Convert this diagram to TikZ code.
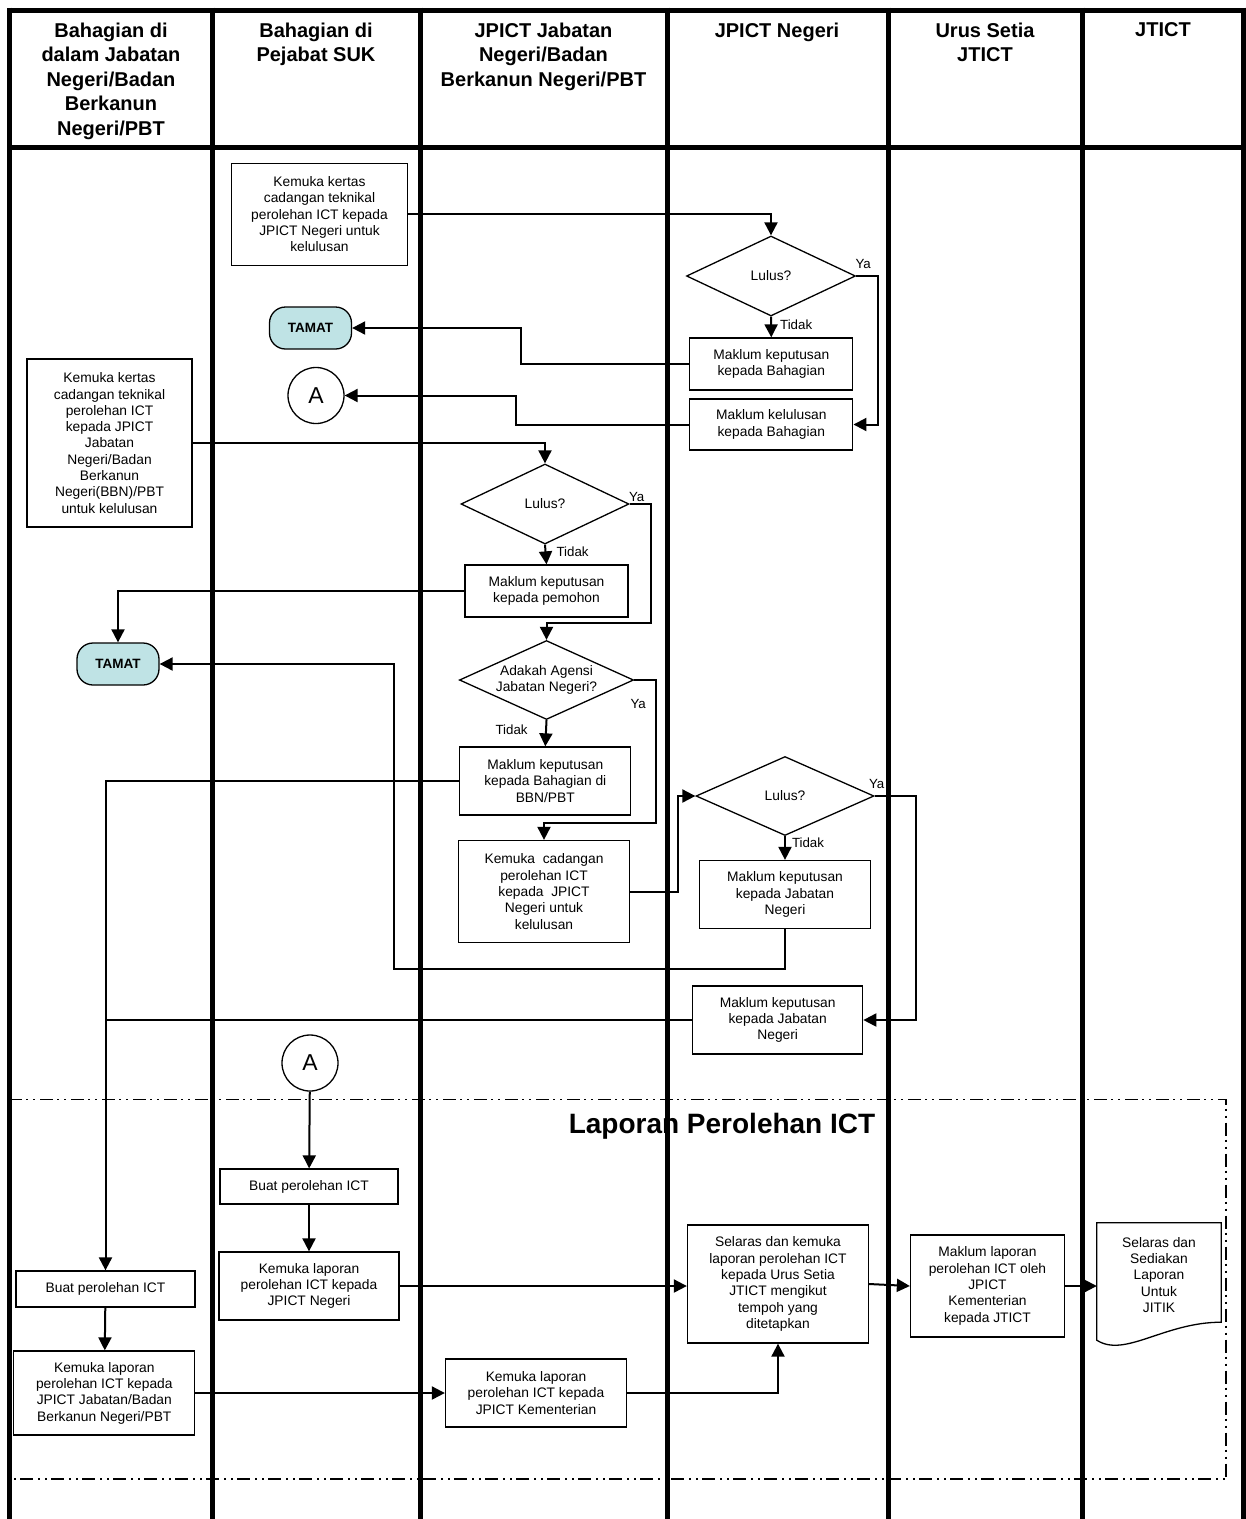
\documentclass[tikz,border=0pt]{standalone}
\usepackage{fontspec}
\setmainfont{Liberation Sans}
\usetikzlibrary{arrows.meta,shapes.geometric}
\definecolor{tamatfill}{RGB}{191,227,229}

\begin{document}
\begin{tikzpicture}[x=1pt,y=-1pt,
    lane/.style={line width=5pt},
    hdr/.style={anchor=north,align=center,inner sep=0pt,font=\fontsize{20}{24.5}\selectfont\bfseries},
    box/.style={draw,line width=1.3pt,align=center,inner sep=1pt,font=\fontsize{13.8}{16.3}\selectfont},
    dia/.style={draw,diamond,line width=1.3pt,align=center,inner sep=0pt,font=\fontsize{13.8}{16.3}\selectfont},
    endbox/.style={draw,rounded corners=16pt,fill=tamatfill,line width=1.3pt,minimum width=82pt,minimum height=42pt,font=\fontsize{13.5}{16}\selectfont\bfseries},
    conn/.style={draw,circle,line width=1.3pt,minimum size=56pt,inner sep=0pt,font=\fontsize{23}{26}\selectfont},
    flow/.style={line width=2pt,-{Triangle[length=13pt,width=13pt]}},
    link/.style={line width=2pt},
    lbl/.style={inner sep=1pt,font=\fontsize{13.3}{15}\selectfont},
    region/.style={line width=1.3pt,dash pattern=on 13pt off 4pt on 2pt off 5pt on 2pt off 5pt}]
      \useasboundingbox (0,0) rectangle (1246,1519);
      \node[font=\fontsize{28}{30}\selectfont\bfseries] (title) at (722,1126) {Laporan Perolehan ICT};
      \draw[lane] (9,10) -- (1244,10);
      \draw[lane] (9,147) -- (1244,147);
      \foreach \x in {9,212.5,420,667,888,1082,1243}
        \draw[lane] (\x,7.5) -- (\x,1519);
      \draw[region] (9,1099.5) -| (1226,1479) -- (9,1479);

      \node[hdr] (h1) at (111,22.5) {Bahagian di\\dalam Jabatan\\Negeri/Badan\\Berkanun\\Negeri/PBT};
      \node[hdr] (h2) at (316,22.5) {Bahagian di\\Pejabat SUK};
      \node[hdr] (h3) at (543.5,22.5) {JPICT Jabatan\\Negeri/Badan\\Berkanun Negeri/PBT};
      \node[hdr] (h4) at (777,22.5) {JPICT Negeri};
      \node[hdr] (h5) at (985,22.5) {Urus Setia\\JTICT};
      \node[hdr] (h6) at (1163,22.5) {JTICT};

      \node[box,minimum width=176pt,minimum height=102pt] (k1) at (319.5,214.3) {Kemuka kertas\\cadangan teknikal\\perolehan ICT kepada\\JPICT Negeri untuk\\kelulusan};
      \node[dia,minimum width=169pt,minimum height=80pt] (d1) at (771,276) {Lulus?};
      \node[endbox] (t1) at (310.5,328) {TAMAT};
      \node[box,minimum width=163pt,minimum height=52pt] (m1) at (771.3,364) {Maklum keputusan\\kepada Bahagian};
      \node[conn] (a1) at (316,395.5) {A};
      \node[box,minimum width=163pt,minimum height=51pt] (m2) at (771.3,424.5) {Maklum kelulusan\\kepada Bahagian};
      \node[box,minimum width=165pt,minimum height=168pt] (k2) at (109.5,443) {Kemuka kertas\\cadangan teknikal\\perolehan ICT\\kepada JPICT\\Jabatan\\Negeri/Badan\\Berkanun\\Negeri(BBN)/PBT\\untuk kelulusan};
      \node[dia,minimum width=168pt,minimum height=80pt] (d2) at (545,504) {Lulus?};
      \node[box,minimum width=163pt,minimum height=52pt] (m3) at (546.5,591) {Maklum keputusan\\kepada pemohon};
      \node[endbox] (t2) at (118,664) {TAMAT};
      \node[dia,shape aspect=2.5,minimum width=171pt,minimum height=79pt] (d3) at (546.5,680) {Adakah Agensi\\Jabatan Negeri?};
      \node[box,minimum width=171pt,minimum height=68pt] (m4) at (545.3,781) {Maklum keputusan\\kepada Bahagian di\\BBN/PBT};
      \node[box,minimum width=171pt,minimum height=102pt] (k3) at (544,891.5) {Kemuka~~cadangan\\perolehan ICT\\kepada~~JPICT\\Negeri untuk\\kelulusan};
      \node[dia,minimum width=178pt,minimum height=79pt] (d4) at (785,796) {Lulus?};
      \node[box,minimum width=171pt,minimum height=68pt] (m5) at (785,894.5) {Maklum keputusan\\kepada Jabatan\\Negeri};
      \node[box,minimum width=170pt,minimum height=68pt] (m6) at (777.7,1020) {Maklum keputusan\\kepada Jabatan\\Negeri};
      \node[conn] (a2) at (310,1063) {A};
      \node[box,minimum width=178pt,minimum height=35pt] (b1) at (309,1186.5) {Buat perolehan ICT};
      \node[box,minimum width=180pt,minimum height=68pt] (k4) at (309,1286) {Kemuka laporan\\perolehan ICT kepada\\JPICT Negeri};
      \node[box,minimum width=179pt,minimum height=36pt] (b2) at (105.5,1289) {Buat perolehan ICT};
      \node[box,minimum width=181pt,minimum height=84pt] (k5) at (104.3,1393) {Kemuka laporan\\perolehan ICT kepada\\JPICT Jabatan/Badan\\Berkanun Negeri/PBT};
      \node[box,minimum width=181pt,minimum height=68pt] (k6) at (536,1393) {Kemuka laporan\\perolehan ICT kepada\\JPICT Kementerian};
      \node[box,minimum width=181pt,minimum height=118pt] (s1) at (778,1284) {Selaras dan kemuka\\laporan perolehan ICT\\kepada Urus Setia\\JTICT mengikut\\tempoh yang\\ditetapkan};
      \node[box,minimum width=154pt,minimum height=102pt] (s2) at (987.5,1286) {Maklum laporan\\perolehan ICT oleh\\JPICT\\Kementerian\\kepada JTICT};
      \node[align=center,inner sep=0pt,minimum width=124pt,minimum height=104pt,font=\fontsize{13.8}{16.3}\selectfont] (doc) at (1159,1275) {Selaras dan\\Sediakan\\Laporan\\Untuk\\JITIK};
      \draw[line width=1.3pt] (doc.north west) -- (doc.north east) -- ([yshift=5pt]doc.south east) .. controls +(-57,0) and +(28,18) .. ([yshift=-13pt]doc.south west) -- cycle;

      \draw[flow] (k1.east) -| (d1.north);
      \draw[flow] (d1.south) -- node[lbl,anchor=west,pos=0.41,xshift=7pt] (td1) {Tidak} (m1.north);
      \draw[flow] (d1.east) -- ++(22,0) |- (m2.east);
      \node[lbl,anchor=south] (ya1) at ([shift={(7pt,6pt)}]d1.east) {Ya};
      \draw[flow] (m1.west) -- ++(-168,0) |- (t1.east);
      \draw[flow] (m2.west) -- ++(-173,0) |- (a1.east);
      \draw[flow] (k2.east) -| (d2.north);
      \draw[flow] (d2.south) -- node[lbl,anchor=west,pos=0.38,xshift=9pt] (td2) {Tidak} (m3.north);
      \draw[flow] (d2.east) -- ++(21.5,0) -- ++(0,119) -| (d3.north);
      \node[lbl,anchor=south] (ya2) at ([shift={(7pt,1pt)}]d2.east) {Ya};
      \draw[flow] (m3.west) -| (t2.north);
      \draw[flow] (d3.south) -- node[lbl,anchor=east,pos=0.36,xshift=-16.5pt] (td3) {Tidak} (m4.north);
      \draw[flow] (d3.east) -- ++(21.5,0) -- ++(0,143) -| (k3.north);
      \node[lbl,anchor=north] (ya3) at ([shift={(4pt,-18pt)}]d3.east) {Ya};
      \draw[flow] (m4.west) -| (b2.north);
      \draw[flow] (k3.east) -- ++(48,0) |- (d4.west);
      \draw[flow] (d4.south) -- node[lbl,anchor=west,pos=0.29,xshift=5pt] (td4) {Tidak} (m5.north);
      \draw[flow] (d4.east) -- ++(41,0) |- (m6.east);
      \node[lbl,anchor=south] (ya4) at ([shift={(2pt,6pt)}]d4.east) {Ya};
      \draw[flow] (m5.south) |- (394,969) |- (t2.east);
      \draw[link] (m6.west) -- (m6.west -| b2.north);
      \draw[flow] (a2) -- (b1);
      \draw[flow] (b1) -- (k4);
      \draw[flow] (b2) -- (k5);
      \draw[flow] (k4.east) -- (k4.east -| s1.west);
      \draw[flow] (k5.east) -- (k6.west);
      \draw[flow] (k6.east) -| (s1.south);
      \draw[flow] (s1.east) -- (s2.west);
      \draw[flow] (s2.east) -- (s2.east -| doc.west);
    \end{tikzpicture}
\end{document}
